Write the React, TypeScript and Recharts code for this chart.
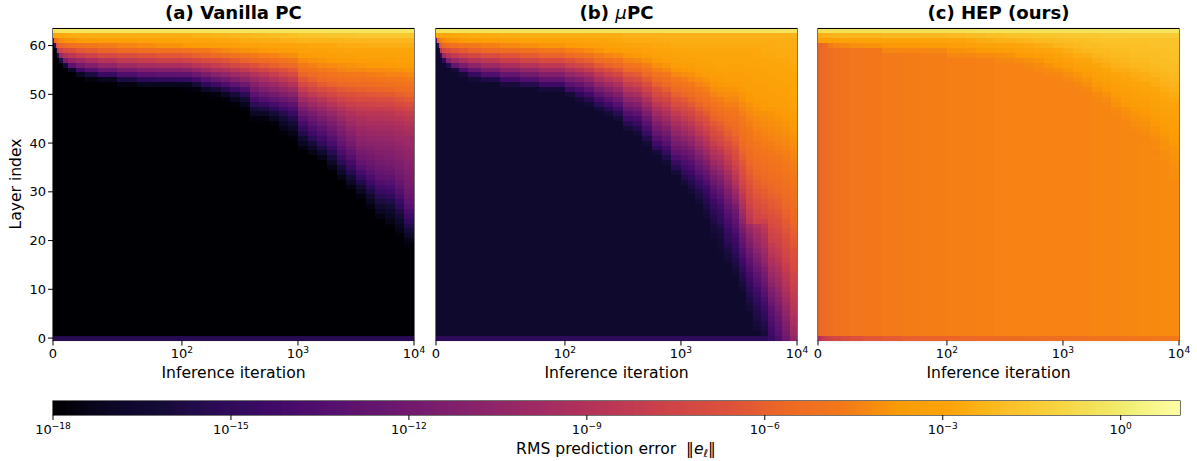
import React from "react";
import { BarChart, Bar, XAxis, YAxis } from "recharts";

// colour table of the colour bar (stops of the map, evenly spaced from low to high)
const colourStops = ["#000004","#0b0724","#160b39","#2d0b59","#420a68","#57106e","#6a176e","#7f1e6c","#932667","#a82e5f","#bc3754","#cf4446","#dd513a","#ed6925","#f37819","#fb9b06","#fca50a","#fac228","#f6d746","#f1ed6f","#fcffa4"];
const colourLow = -18;
const colourHigh = 1;
const colourbarTicks = [-18, -15, -12, -9, -6, -3, 0];
const layerTicks = [0, 10, 20, 30, 40, 50, 60];
const iterationTicks = [0, 100, 1000, 10000];
const layerCount = 64;

// iteration edges of the heat map columns
const edgesVanilla = [0,1,2,3,5,8,12,18,25,35,50,65,80,100,121,147,178,215,261,316,383,464,562,681,825,1000,1212,1468,1778,2154,2610,3162,3831,4642,5623,6813,8254,10000];
const edgesMu = [0,1,2,3,5,8,12,18,25,35,50,65,80,100,121,147,178,215,261,316,383,464,562,681,825,1000,1155,1334,1540,1778,2054,2371,2738,3162,3652,4217,4870,5623,6494,7499,8660,10000];
const edgesHep = edgesVanilla;

// log10 error per column, read from layer 63 downwards; below a list the panel's floor applies
const vanillaFloor = -18;
const vanillaLayerZero = -15.4;
const vanillaColumns = [
[-.3,-3,-14],
[-.3,-2.9,-5.2,-15],
[-.3,-2.9,-5,-7,-16],
[-.3,-2.8,-4.6,-6.2,-8.5,-15],
[-.3,-2.7,-4.2,-5.8,-7.5,-10,-15.5],
[-.3,-2.7,-4,-5.5,-7,-9,-11.5,-16],
[-.3,-2.6,-3.9,-5.2,-6.7,-8.5,-10.5,-13,-16.8],
[-.3,-2.6,-3.7,-5,-6.3,-8,-10,-11.8,-14.3,-17],
[-.3,-2.5,-3.6,-4.8,-6.1,-7.6,-9.4,-11.2,-13.2,-15.8,-17.6],
[-.3,-2.5,-3.5,-4.6,-5.8,-7.2,-8.8,-10.5,-12.4,-14.6,-17.2],
[-.3,-2.5,-3.3,-4.4,-5.5,-6.9,-8.3,-9.9,-11.7,-13.6,-15.8,-17.6],
[-.3,-2.5,-3.2,-4.2,-5.3,-6.6,-8,-9.6,-11.3,-13.1,-15.1,-17.2],
[-.3,-2.5,-3,-4,-5.1,-6.4,-7.8,-9.4,-11.1,-12.9,-14.9,-17.2],
[-.3,-2.5,-2.9,-3.8,-5,-6.2,-7.6,-9.2,-11,-12.8,-14.8,-17.2,-17.8],
[-.3,-2.4,-2.9,-3.7,-4.8,-6,-7.3,-8.8,-10.5,-12.2,-14.1,-16.2,-17.7],
[-.3,-2.4,-2.8,-3.6,-4.7,-5.8,-7,-8.4,-9.9,-11.5,-13.2,-15.1,-16.9,-17.8],
[-.3,-2.3,-2.8,-3.5,-4.5,-5.6,-6.8,-8.1,-9.5,-11,-12.6,-14.4,-16.3,-17.7],
[-.3,-2.3,-2.7,-3.4,-4.3,-5.3,-6.5,-7.7,-9.1,-10.5,-12,-13.7,-15.5,-17,-17.8],
[-.3,-2.2,-2.7,-3.3,-4.1,-5.1,-6.2,-7.3,-8.7,-10,-11.3,-12.9,-14.5,-16,-17.2,-17.8],
[-.3,-2.2,-2.6,-3.2,-4,-4.8,-5.9,-7,-8.3,-9.6,-10.8,-12.2,-13.7,-15.2,-16.4,-17.3,-17.8],
[-.3,-2.1,-2.6,-3.1,-3.9,-4.7,-5.6,-6.6,-7.8,-9,-10.1,-11.1,-12,-13,-14.1,-15.2,-16.2,-17,-17.7],
[-.3,-2.1,-2.5,-3,-3.8,-4.5,-5.4,-6.3,-7.4,-8.5,-9.6,-10.5,-11.4,-12.4,-13.4,-14.6,-15.8,-16.9,-17.7],
[-.3,-2,-2.5,-3,-3.7,-4.4,-5.2,-6,-7,-8,-9,-10,-10.9,-11.9,-12.9,-14,-15.1,-16.2,-17.1,-17.8],
[-.3,-2,-2.4,-2.9,-3.6,-4.2,-5,-5.7,-6.6,-7.5,-8.4,-9.4,-10.4,-11.4,-12.4,-13.4,-14.4,-15.4,-16.2,-16.9,-17.4,-17.8],
[-.3,-1.9,-2.4,-2.9,-3.5,-4.1,-4.8,-5.5,-6.3,-7.1,-8,-8.9,-9.9,-10.9,-11.9,-12.9,-13.8,-14.7,-15.5,-16.2,-16.9,-17.4,-17.8],
[-.3,-1.8,-2.3,-2.8,-3.2,-3.7,-4.2,-4.7,-5.2,-5.8,-6.4,-7.2,-8.1,-9,-9.9,-10.8,-11.6,-12.4,-13.2,-14,-14.8,-15.6,-16.4,-17.1,-17.7],
[-.3,-1.8,-2.3,-2.7,-3.1,-3.6,-4,-4.5,-5,-5.5,-6,-6.7,-7.5,-8.3,-9.2,-10,-10.8,-11.6,-12.3,-13,-13.7,-14.4,-15.2,-16,-16.8,-17.5],
[-.3,-1.8,-2.3,-2.7,-3.1,-3.5,-3.9,-4.3,-4.7,-5.2,-5.6,-6.2,-7,-7.8,-8.7,-9.5,-10.2,-10.9,-11.6,-12.3,-13,-13.6,-14.2,-14.9,-15.7,-16.6,-17.4],
[-.3,-1.7,-2.3,-2.7,-3,-3.4,-3.8,-4.2,-4.6,-5,-5.4,-5.9,-6.6,-7.3,-8.1,-8.9,-9.6,-10.3,-10.9,-11.5,-12.1,-12.7,-13.3,-13.9,-14.6,-15.3,-16,-16.8,-17.5],
[-.3,-1.7,-2.3,-2.6,-3,-3.3,-3.7,-4.1,-4.4,-4.8,-5.2,-5.7,-6.3,-6.9,-7.6,-8.3,-9,-9.6,-10.2,-10.7,-11.2,-11.7,-12.2,-12.7,-13.2,-13.8,-14.5,-15.2,-16,-16.8,-17.5],
[-.3,-1.7,-2.2,-2.6,-2.9,-3.3,-3.6,-4,-4.3,-4.7,-5.1,-5.6,-6.1,-6.7,-7.3,-7.9,-8.5,-9.1,-9.6,-10.1,-10.5,-11,-11.4,-11.8,-12.3,-12.8,-13.4,-14,-14.7,-15.4,-16.2,-16.9,-17.6],
[-.3,-1.6,-2.2,-2.6,-2.9,-3.2,-3.5,-3.9,-4.3,-4.7,-5.1,-5.5,-6,-6.5,-7.1,-7.7,-8.2,-8.7,-9.2,-9.6,-10,-10.3,-10.7,-11,-11.4,-11.8,-12.2,-12.7,-13.3,-14,-14.8,-15.6,-16.4,-17.1,-17.7],
[-.3,-1.6,-2.2,-2.5,-2.9,-3.2,-3.5,-3.8,-4.2,-4.6,-5,-5.4,-5.9,-6.4,-7,-7.6,-8.1,-8.6,-9,-9.4,-9.8,-10.2,-10.5,-10.8,-11.2,-11.5,-11.9,-12.3,-12.7,-13.2,-13.8,-14.4,-15.1,-15.8,-16.5,-17.1,-17.6],
[-.3,-1.6,-2.2,-2.5,-2.9,-3.2,-3.4,-3.8,-4.2,-4.5,-4.9,-5.3,-5.8,-6.3,-6.9,-7.5,-8.1,-8.6,-9,-9.4,-9.7,-10.1,-10.4,-10.7,-10.9,-11.2,-11.5,-11.9,-12.2,-12.6,-13,-13.5,-14,-14.6,-15.3,-15.9,-16.5,-17.1,-17.6],
[-.3,-1.6,-2.2,-2.5,-2.8,-3.1,-3.4,-3.7,-4.1,-4.4,-4.8,-5.2,-5.7,-6.2,-6.8,-7.4,-8,-8.5,-8.9,-9.3,-9.7,-10,-10.3,-10.6,-10.9,-11.1,-11.4,-11.7,-12,-12.4,-12.8,-13.3,-13.8,-14.4,-15,-15.6,-16.2,-16.7,-17.1,-17.5,-17.8],
[-.3,-1.6,-2.2,-2.5,-2.8,-3,-3.3,-3.6,-4,-4.4,-4.7,-5.1,-5.5,-6,-6.5,-7.1,-7.7,-8.2,-8.7,-9.1,-9.5,-9.8,-10.1,-10.3,-10.6,-10.8,-11,-11.3,-11.5,-11.8,-12.1,-12.5,-12.9,-13.4,-13.9,-14.5,-15.1,-15.7,-16.3,-16.8,-17.2,-17.5,-17.8],
[-.3,-1.6,-2.2,-2.5,-2.8,-3,-3.3,-3.6,-3.9,-4.3,-4.6,-5,-5.4,-5.8,-6.3,-6.9,-7.5,-8,-8.4,-8.8,-9.2,-9.6,-9.9,-10.1,-10.3,-10.5,-10.7,-10.9,-11.1,-11.3,-11.5,-11.7,-11.9,-12.2,-12.5,-12.9,-13.3,-13.9,-14.4,-15,-15.6,-16.2,-16.8,-17.4,-17.8],
];

const muFloor = -16.6;
const muLayerZero = -15.2;
const muColumns = [
[-.4,-3.1,-14],
[-.4,-3,-5.3,-15],
[-.4,-2.9,-5,-7.2,-15.5],
[-.4,-2.9,-4.6,-6.2,-8.6,-15],
[-.4,-2.8,-4.2,-5.7,-7.4,-9.8,-15],
[-.4,-2.8,-4,-5.4,-6.9,-8.8,-11.2,-15.5],
[-.4,-2.7,-3.9,-5.1,-6.5,-8.2,-10.2,-12.6,-16],
[-.4,-2.7,-3.7,-4.9,-6.2,-7.7,-9.5,-11.5,-13.8,-16],
[-.4,-2.6,-3.6,-4.7,-5.9,-7.3,-8.9,-10.7,-12.6,-14.8,-16.2],
[-.4,-2.6,-3.5,-4.5,-5.6,-6.9,-8.4,-10,-11.7,-13.5,-15.6],
[-.4,-2.5,-3.3,-4.3,-5.3,-6.5,-7.9,-9.4,-11,-12.6,-14.3,-16],
[-.4,-2.5,-3.2,-4.1,-5.1,-6.2,-7.5,-8.9,-10.4,-11.9,-13.5,-15.4],
[-.4,-2.5,-3.1,-3.9,-4.8,-5.9,-7.1,-8.4,-9.8,-11.2,-12.7,-14.4,-16],
[-.4,-2.5,-3,-3.7,-4.5,-5.5,-6.6,-7.8,-9.1,-10.4,-11.7,-13.1,-14.5,-16.1],
[-.4,-2.5,-3,-3.6,-4.4,-5.3,-6.3,-7.5,-8.7,-10,-11.3,-12.6,-13.9,-15.1,-16.1],
[-.4,-2.5,-2.9,-3.5,-4.2,-5,-6,-7,-8.2,-9.4,-10.6,-11.8,-13,-14.3,-15.5,-16.2],
[-.4,-2.5,-2.8,-3.3,-3.9,-4.6,-5.4,-6.3,-7.3,-8.4,-9.5,-10.6,-11.7,-12.8,-14,-15.2,-16.1],
[-.4,-2.5,-2.8,-3.2,-3.7,-4.4,-5.1,-5.9,-6.8,-7.8,-8.8,-9.9,-11,-12,-13.1,-14.2,-15.3,-16.1],
[-.4,-2.5,-2.7,-3.1,-3.6,-4.2,-4.9,-5.6,-6.4,-7.3,-8.3,-9.3,-10.3,-11.3,-12.3,-13.3,-14.3,-15.3,-16.1],
[-.4,-2.4,-2.6,-3,-3.4,-3.9,-4.4,-5,-5.7,-6.4,-7.2,-8,-8.9,-9.8,-10.7,-11.6,-12.5,-13.4,-14.3,-15.3,-16.1],
[-.4,-2.4,-2.6,-2.9,-3.3,-3.8,-4.3,-4.9,-5.5,-6.2,-6.9,-7.7,-8.5,-9.4,-10.3,-11.2,-12.1,-13,-13.9,-14.7,-15.5,-16.2],
[-.4,-2.4,-2.6,-2.8,-3.2,-3.6,-4,-4.5,-5,-5.6,-6.2,-6.9,-7.6,-8.3,-9.1,-9.9,-10.7,-11.5,-12.3,-13.1,-13.9,-14.7,-15.5,-16.2],
[-.4,-2.4,-2.6,-2.7,-3,-3.3,-3.7,-4.1,-4.5,-5,-5.5,-6,-6.6,-7.2,-7.8,-8.5,-9.2,-9.9,-10.6,-11.3,-12,-12.7,-13.4,-14.2,-15.1,-16],
[-.4,-2.4,-2.5,-2.7,-2.9,-3.2,-3.5,-3.9,-4.3,-4.7,-5.1,-5.6,-6.1,-6.7,-7.3,-7.9,-8.5,-9.1,-9.8,-10.5,-11.2,-11.9,-12.6,-13.3,-14,-14.8,-15.6,-16.2],
[-.4,-2.4,-2.5,-2.6,-2.8,-3,-3.3,-3.6,-3.9,-4.3,-4.7,-5.1,-5.5,-6,-6.5,-7,-7.6,-8.2,-8.8,-9.4,-10,-10.6,-11.2,-11.8,-12.4,-13,-13.7,-14.5,-15.3,-16.1],
[-.4,-2.4,-2.5,-2.6,-2.8,-3,-3.2,-3.5,-3.8,-4.1,-4.5,-4.9,-5.3,-5.7,-6.2,-6.7,-7.2,-7.7,-8.3,-8.9,-9.5,-10.1,-10.7,-11.3,-11.9,-12.5,-13.1,-13.7,-14.3,-14.9,-15.5,-16.1],
[-.4,-2.4,-2.5,-2.6,-2.7,-2.9,-3.1,-3.4,-3.7,-4,-4.3,-4.7,-5,-5.4,-5.8,-6.3,-6.8,-7.3,-7.8,-8.4,-9,-9.6,-10.2,-10.8,-11.4,-12,-12.6,-13.2,-13.8,-14.4,-15,-15.5,-15.9,-16.2],
[-.4,-2.4,-2.5,-2.6,-2.7,-2.8,-3,-3.2,-3.5,-3.8,-4.1,-4.4,-4.7,-5,-5.4,-5.8,-6.2,-6.6,-7.1,-7.6,-8.1,-8.6,-9.2,-9.7,-10.3,-10.9,-11.5,-12.1,-12.7,-13.3,-13.9,-14.5,-15,-15.5,-15.9,-16.2],
[-.4,-2.4,-2.5,-2.6,-2.7,-2.8,-3,-3.2,-3.4,-3.6,-3.9,-4.2,-4.5,-4.8,-5.1,-5.4,-5.8,-6.2,-6.6,-7,-7.5,-8,-8.5,-9,-9.5,-10.1,-10.7,-11.3,-11.9,-12.5,-13,-13.6,-14.2,-14.7,-15.1,-15.5,-15.8,-16.1,-16.3],
[-.4,-2.4,-2.5,-2.6,-2.7,-2.8,-2.9,-3.1,-3.3,-3.5,-3.7,-3.9,-4.1,-4.4,-4.7,-5,-5.3,-5.6,-5.9,-6.3,-6.7,-7.1,-7.5,-8,-8.5,-9,-9.5,-10,-10.6,-11.2,-11.7,-12.3,-12.9,-13.4,-13.9,-14.4,-14.8,-15.2,-15.5,-15.8,-16,-16.2,-16.3],
[-.4,-2.4,-2.5,-2.6,-2.7,-2.8,-2.9,-3,-3.2,-3.4,-3.6,-3.8,-4,-4.2,-4.5,-4.7,-5,-5.3,-5.6,-6,-6.3,-6.7,-7.1,-7.5,-8,-8.5,-9,-9.5,-10.1,-10.6,-11.1,-11.6,-12.1,-12.6,-13.1,-13.6,-14.1,-14.5,-14.9,-15.2,-15.5,-15.8,-16,-16.2,-16.3,-16.4],
[-.4,-2.4,-2.5,-2.6,-2.7,-2.8,-2.9,-3,-3.2,-3.3,-3.5,-3.7,-3.9,-4.1,-4.3,-4.5,-4.7,-5,-5.2,-5.5,-5.8,-6.1,-6.4,-6.8,-7.2,-7.6,-8,-8.4,-8.9,-9.4,-9.9,-10.4,-10.8,-11.3,-11.7,-12.2,-12.7,-13.1,-13.5,-13.9,-14.3,-14.6,-14.9,-15.2,-15.5,-15.8,-16.1,-16.3],
[-.4,-2.4,-2.5,-2.6,-2.7,-2.8,-2.9,-3.1,-3.2,-3.4,-3.5,-3.7,-3.9,-4.1,-4.3,-4.5,-4.7,-4.9,-5.1,-5.3,-5.5,-5.7,-6,-6.2,-6.5,-6.8,-7.1,-7.4,-7.8,-8.2,-8.6,-9,-9.5,-10,-10.5,-11,-11.6,-12.2,-12.5,-12.9,-13.2,-13.6,-14,-14.4,-14.7,-15,-15.3,-15.6,-15.9,-16.2,-16.4],
[-.4,-2.4,-2.5,-2.6,-2.7,-2.8,-2.9,-3,-3.2,-3.3,-3.4,-3.6,-3.7,-3.9,-4,-4.2,-4.4,-4.5,-4.7,-4.8,-5,-5.2,-5.3,-5.5,-5.7,-5.9,-6.1,-6.4,-6.6,-6.9,-7.2,-7.5,-7.8,-8.1,-8.5,-8.9,-9.3,-9.7,-10.2,-10.7,-11.2,-11.7,-12.2,-12.6,-13,-13.4,-13.8,-14.2,-14.6,-15,-15.4,-15.7,-16,-16.3],
[-.4,-2.4,-2.5,-2.6,-2.7,-2.8,-2.9,-3,-3.1,-3.2,-3.3,-3.4,-3.5,-3.7,-3.8,-4,-4.1,-4.3,-4.4,-4.5,-4.7,-4.8,-4.9,-5.1,-5.2,-5.4,-5.5,-5.7,-5.9,-6.1,-6.3,-6.5,-6.7,-6.9,-7.2,-7.4,-7.7,-8,-8.3,-8.6,-9.8,-10.3,-10.7,-11.1,-11.5,-12,-12.4,-12.8,-13.2,-13.6,-14,-14.4,-14.8,-15.2,-15.5,-15.8,-16,-16.2],
[-.4,-2.4,-2.5,-2.6,-2.7,-2.7,-2.8,-2.9,-3,-3.1,-3.2,-3.3,-3.4,-3.5,-3.6,-3.8,-3.9,-4,-4.2,-4.3,-4.4,-4.5,-4.6,-4.8,-4.9,-5,-5.2,-5.3,-5.5,-5.6,-5.8,-6,-6.1,-6.3,-6.5,-6.7,-6.9,-7.2,-7.4,-7.7,-9,-9.4,-9.7,-10.1,-10.4,-10.8,-11.2,-11.6,-12,-12.4,-12.8,-13.2,-13.6,-14.1,-14.5,-14.8,-15.1,-15.4,-15.6,-15.8,-16,-16.2],
[-.4,-2.4,-2.5,-2.6,-2.6,-2.7,-2.8,-2.9,-3,-3.1,-3.2,-3.3,-3.4,-3.5,-3.6,-3.7,-3.8,-4,-4.1,-4.2,-4.3,-4.4,-4.5,-4.6,-4.7,-4.9,-5,-5.1,-5.3,-5.4,-5.6,-5.7,-5.9,-6.1,-6.2,-6.4,-6.6,-6.8,-7.2,-7.8,-8.4,-8.7,-9,-9.3,-9.6,-9.9,-10.2,-10.5,-10.9,-11.3,-11.7,-12.1,-12.5,-12.9,-13.3,-13.7,-14.1,-14.5,-14.9,-15.2,-15.5,-15.7,-16],
[-.4,-2.4,-2.5,-2.6,-2.6,-2.7,-2.7,-2.8,-2.9,-3,-3.1,-3.2,-3.3,-3.4,-3.5,-3.6,-3.8,-3.9,-4,-4.1,-4.2,-4.3,-4.4,-4.5,-4.6,-4.7,-4.9,-5,-5.1,-5.2,-5.4,-5.5,-5.7,-5.8,-6,-6.2,-6.3,-6.5,-6.7,-6.9,-7.1,-7.4,-7.6,-7.8,-8.2,-8.5,-8.8,-9.1,-9.4,-9.7,-10,-10.4,-10.8,-11.2,-11.6,-12,-12.4,-12.8,-13.1,-13.4,-13.7,-14,-14.3,-14.6],
[-.4,-2.4,-2.5,-2.5,-2.6,-2.6,-2.7,-2.8,-2.8,-2.9,-3,-3.1,-3.2,-3.3,-3.4,-3.5,-3.7,-3.8,-3.9,-4,-4.1,-4.2,-4.3,-4.4,-4.5,-4.6,-4.8,-4.9,-5,-5.1,-5.3,-5.4,-5.5,-5.6,-5.8,-6,-6.1,-6.3,-6.5,-6.7,-6.9,-7.1,-7.3,-7.6,-7.8,-8.1,-8.3,-8.6,-8.9,-9.2,-9.5,-9.8,-10.1,-10.4,-10.7,-11.1,-11.4,-11.7,-12.1,-12.4,-12.7,-13,-13.3,-13.6],
[-.4,-2.4,-2.5,-2.5,-2.6,-2.6,-2.7,-2.7,-2.8,-2.8,-2.9,-3,-3.1,-3.2,-3.3,-3.4,-3.5,-3.7,-3.8,-3.9,-4,-4.1,-4.2,-4.3,-4.4,-4.5,-4.6,-4.7,-4.8,-4.9,-5,-5.1,-5.2,-5.3,-5.5,-5.6,-5.7,-5.9,-6,-6.2,-6.3,-6.5,-6.7,-6.9,-7.1,-7.3,-7.5,-7.7,-7.9,-8.1,-8.4,-8.6,-8.9,-9.1,-9.4,-9.7,-10,-10.3,-10.6,-10.9,-11.2,-11.5,-11.8,-12.2],
[-.4,-2.4,-2.5,-2.5,-2.6,-2.6,-2.6,-2.7,-2.7,-2.8,-2.8,-2.9,-2.9,-3,-3.1,-3.2,-3.3,-3.5,-3.6,-3.7,-3.8,-3.9,-4,-4.1,-4.2,-4.3,-4.4,-4.5,-4.6,-4.7,-4.8,-4.9,-5,-5.1,-5.2,-5.3,-5.4,-5.5,-5.6,-5.7,-5.9,-6,-6.1,-6.3,-6.4,-6.6,-6.7,-6.9,-7,-7.2,-7.4,-7.6,-7.8,-8,-8.2,-8.4,-8.6,-8.8,-9,-9.3,-9.5,-9.8,-10.1,-10.4],
];

const hepFloors = [-5.9,-5.8,-5.7,-5.6,-5.5,-5.3,-5.1,-5,-4.85,-4.75,-4.65,-4.6,-4.55,-4.5,-4.5,-4.5,-4.45,-4.45,-4.4,-4.4,-4.4,-4.4,-4.4,-4.4,-4.4,-4.4,-4.4,-4.4,-4.35,-4.35,-4.35,-4.3,-4.3,-4.25,-4.25,-4.2,-4.2];
const hepLayerZero = [-9.2,-8.8,-8.5,-8.2,-7.9,-7.6,-7.3,-7,-6.7,-6.4,-6.2,-6,-5.9,-5.8,-5.75,-5.7,-5.65,-5.6,-5.55,-5.5,-5.45,-5.4,-5.4,-5.35,-5.3,-5.3,-5.25,-5.2,-5.15,-5.1,-5.05,-5,-4.95,-4.9,-4.85,-4.8,-4.7];
const hepColumns = [
[-.5,-2.6,-3.6],
[-.5,-2.5,-3.5],
[-.5,-2.5,-3.5],
[-.5,-2.4,-3.4],
[-.5,-2.4,-3.4],
[-.5,-2.4,-3.3,-4.6],
[-.5,-2.3,-3.2,-4.4],
[-.5,-2.3,-3.2,-4.3],
[-.5,-2.3,-3.1,-4.1],
[-.5,-2.3,-3.1,-4],
[-.5,-2.2,-3,-3.8,-4.3],
[-.5,-2.2,-3,-3.8,-4.3],
[-.5,-2.2,-2.9,-3.7,-4.3],
[-.5,-2.1,-2.8,-3.5,-4,-4.3],
[-.5,-2.1,-2.8,-3.4,-4,-4.3],
[-.5,-2,-2.7,-3.3,-3.9,-4.3],
[-.4,-2,-2.6,-3.2,-3.8,-4.2],
[-.4,-1.9,-2.5,-3.1,-3.7,-4.2],
[-.4,-1.9,-2.4,-3,-3.6,-4.1,-4.3],
[-.4,-1.8,-2.4,-2.9,-3.5,-4,-4.3],
[-.4,-1.8,-2.3,-2.8,-3.3,-3.8,-4.2],
[-.4,-1.8,-2.2,-2.7,-3.2,-3.7,-4.1,-4.3],
[-.4,-1.7,-2.1,-2.6,-3,-3.5,-3.9,-4.2,-4.3],
[-.4,-1.7,-2.1,-2.5,-2.9,-3.3,-3.7,-4,-4.2,-4.3],
[-.4,-1.7,-2,-2.3,-2.7,-3.1,-3.5,-3.8,-4.1,-4.3],
[-.4,-1.6,-2,-2.2,-2.5,-2.9,-3.2,-3.6,-3.9,-4.1,-4.3],
[-.4,-1.6,-1.9,-2.1,-2.3,-2.6,-2.9,-3.3,-3.6,-3.9,-4.1,-4.3],
[-.4,-1.6,-1.9,-2,-2.2,-2.5,-2.8,-3.1,-3.4,-3.7,-3.9,-4.1,-4.3],
[-.4,-1.6,-1.8,-2,-2.1,-2.3,-2.5,-2.8,-3.1,-3.3,-3.6,-3.8,-4,-4.2,-4.3],
[-.4,-1.5,-1.8,-1.9,-2.1,-2.2,-2.4,-2.6,-2.9,-3.1,-3.4,-3.6,-3.8,-4,-4.2,-4.3],
[-.4,-1.5,-1.8,-1.9,-2,-2.1,-2.3,-2.4,-2.6,-2.8,-3.1,-3.3,-3.5,-3.7,-3.9,-4,-4.2,-4.3],
[-.3,-1.5,-1.8,-1.9,-2,-2.1,-2.2,-2.3,-2.5,-2.7,-2.9,-3.1,-3.3,-3.5,-3.7,-3.8,-4,-4.1,-4.2,-4.3],
[-.3,-1.5,-1.8,-1.9,-1.9,-2,-2.1,-2.2,-2.4,-2.5,-2.7,-2.9,-3.1,-3.3,-3.5,-3.6,-3.8,-3.9,-4,-4.1,-4.2,-4.3],
[-.3,-1.5,-1.8,-1.9,-1.9,-2,-2.1,-2.2,-2.3,-2.5,-2.6,-2.8,-3,-3.2,-3.4,-3.5,-3.7,-3.8,-3.9,-4,-4.1,-4.2,-4.3],
[-.3,-1.5,-1.8,-1.8,-1.9,-2,-2,-2.1,-2.2,-2.3,-2.5,-2.6,-2.8,-3,-3.1,-3.3,-3.4,-3.6,-3.7,-3.8,-3.9,-4,-4.1,-4.2,-4.2,-4.3],
[-.3,-1.5,-1.8,-1.8,-1.9,-1.9,-2,-2,-2.1,-2.2,-2.3,-2.4,-2.6,-2.7,-2.9,-3,-3.2,-3.3,-3.5,-3.6,-3.7,-3.8,-3.9,-4,-4,-4.1,-4.1,-4.2,-4.2],
[-.3,-1.5,-1.8,-1.8,-1.8,-1.9,-1.9,-2,-2,-2.1,-2.2,-2.3,-2.4,-2.5,-2.7,-2.8,-3,-3.1,-3.3,-3.4,-3.5,-3.6,-3.7,-3.8,-3.9,-3.9,-4,-4,-4.1,-4.1,-4.1,-4.2],
];

const FONT = "'DejaVu Sans', sans-serif";
const linearSpan = 1 / (1 - 1 / 10);
const axisMax = linearSpan + 2;
const toAxis = (it: number) => (it <= 100 ? (it / 100) * linearSpan : linearSpan + Math.log10(it / 100));

const hexRgb = (h: string) => [1, 3, 5].map((i) => parseInt(h.slice(i, i + 2), 16));
const colourOf = (v: number) => {
  const t = Math.max(0, Math.min(1, (v - colourLow) / (colourHigh - colourLow))) * (colourStops.length - 1);
  const i = Math.min(Math.floor(t), colourStops.length - 2);
  const a = hexRgb(colourStops[i]);
  const b = hexRgb(colourStops[i + 1]);
  const f = t - i;
  return `rgb(${a.map((x, k) => Math.round(x + (b[k] - x) * f)).join(",")})`;
};

const PowerText = ({ x, y, base, exp }: any) => (
  <text x={x} y={y} textAnchor="middle" fontFamily={FONT} fontSize={13} fill="#000">
    {base}
    <tspan fontSize={9.1} dy={-5.5}>{exp}</tspan>
  </text>
);

const iterationTick = (xTo: number[]) => (p: any) => {
  const it = iterationTicks[xTo.indexOf(p.payload.value)];
  if (it === 0) {
    return <text x={p.x} y={358} textAnchor="middle" fontFamily={FONT} fontSize={13} fill="#000">0</text>;
  }
  return <PowerText x={p.x} y={358} base="10" exp={String(Math.round(Math.log10(it)))} />;
};

type PanelProps = {
  left: number;
  title: React.ReactNode;
  edges: number[];
  columns: number[][];
  floors: (k: number) => number;
  zero: (k: number) => number;
  showLayers: boolean;
};

const Panel = ({ left, title, edges, columns, floors, zero, showLayers }: PanelProps) => {
  const fills = columns.map((col, k) => {
    const out: string[] = [];
    for (let layer = layerCount - 1; layer >= 0; layer--) {
      const i = layerCount - 1 - layer;
      const v = i < col.length ? col[i] : layer === 0 ? zero(k) : floors(k);
      out.push(colourOf(v));
    }
    return out;
  });
  const rows: any[] = [];
  for (let layer = layerCount - 1; layer >= 0; layer--) {
    const row: any = { layer };
    columns.forEach((_, k) => {
      row[`c${k}`] = toAxis(edges[k + 1]) - toAxis(edges[k]);
    });
    rows.push(row);
  }
  const xTicks = iterationTicks.map(toAxis);
  const cx = 53 + 180.5;
  return (
    <div style={{ position: "absolute", left, top: 0 }}>
      <BarChart
        width={440}
        height={400}
        data={rows}
        layout="vertical"
        barCategoryGap={0}
        barGap={0}
        margin={{ top: 28.5, right: 26, bottom: 19.5, left: 23 }}
      >
        {columns.map((_, k) => (
          <Bar
            key={k}
            dataKey={`c${k}`}
            stackId="s"
            isAnimationActive={false}
            shape={(p: any) => (
              <rect x={p.x} y={p.y} width={p.width} height={p.height} fill={fills[k][p.index]} shapeRendering="crispEdges" />
            )}
          />
        ))}
        <XAxis
          type="number"
          domain={[0, axisMax]}
          ticks={xTicks}
          height={40}
          interval={0}
          tickSize={5}
          tickLine={{ stroke: "#000", strokeWidth: 1 }}
          axisLine={false}
          tick={iterationTick(xTicks)}
        />
        <YAxis
          type="category"
          dataKey="layer"
          ticks={layerTicks}
          interval={0}
          width={30}
          tickSize={5}
          tickLine={{ stroke: "#000", strokeWidth: 1 }}
          axisLine={false}
          tick={showLayers ? { fontFamily: FONT, fontSize: 13, fill: "#000" } : false}
        />
        <rect x={53} y={28.5} width={361} height={312} fill="none" stroke="#000" strokeWidth={1.1} />
        <text x={cx} y={19} textAnchor="middle" fontFamily={FONT} fontSize={18.1} fontWeight="bold" fill="#000">{title}</text>
        <text x={cx} y={378} textAnchor="middle" fontFamily={FONT} fontSize={15.6} fill="#000">Inference iteration</text>
        {showLayers && (
          <text x={16} y={184} textAnchor="middle" fontFamily={FONT} fontSize={15.6} fill="#000" dominantBaseline="middle" transform="rotate(-90 16 184)">Layer index</text>
        )}
      </BarChart>
    </div>
  );
};

const colourbarSteps = 256;
const colourbarKeys = Array.from({ length: colourbarSteps }, (_, i) => `s${i}`);
const colourbarRow: any = {};
colourbarKeys.forEach((k) => { colourbarRow[k] = (colourHigh - colourLow) / colourbarSteps; });
const colourbarTickPos = colourbarTicks.map((v) => v - colourLow);

const Colourbar = () => (
  <div style={{ position: "absolute", left: 0, top: 390 }}>
    <BarChart
      width={1197}
      height={71}
      data={[colourbarRow]}
      layout="vertical"
      barCategoryGap={0}
      margin={{ top: 11, right: 17, bottom: 26, left: 53 }}
    >
      {colourbarKeys.map((k, i) => (
        <Bar
          key={k}
          dataKey={k}
          stackId="s"
          isAnimationActive={false}
          shape={(p: any) => (
            <rect x={p.x} y={p.y} width={p.width} height={p.height} fill={colourOf(colourLow + ((i + 0.5) * (colourHigh - colourLow)) / colourbarSteps)} shapeRendering="crispEdges" />
          )}
        />
      ))}
      <XAxis
        type="number"
        domain={[0, colourHigh - colourLow]}
        ticks={colourbarTickPos}
        interval={0}
        height={20}
        tickSize={5}
        tickLine={{ stroke: "#000", strokeWidth: 1 }}
        axisLine={false}
        tick={(p: any) => {
          const v = p.payload.value + colourLow;
          const exp = (v < 0 ? "\u2212" : "") + Math.abs(v);
          return <PowerText x={p.x} y={44} base="10" exp={exp} />;
        }}
      />
      <YAxis type="category" hide width={0} />
      <rect x={53} y={11} width={1127} height={14} fill="none" stroke="#000" strokeWidth={1.1} />
      <text x={616} y={64} textAnchor="middle" fontFamily={FONT} fontSize={15.6} fill="#000" xmlSpace="preserve">
        {"RMS prediction error  \u2016"}
        <tspan fontStyle="italic">e</tspan>
        <tspan fontStyle="italic" fontSize={11} dy={3}>{"\u2113"}</tspan>
        <tspan dy={-3}>{"\u2016"}</tspan>
      </text>
    </BarChart>
  </div>
);

export default function App() {
  return (
    <div style={{ position: "absolute", left: 0, top: 0, width: 1197, height: 461, background: "#fff", overflow: "hidden" }}>
      <Panel left={0} title="(a) Vanilla PC" edges={edgesVanilla} columns={vanillaColumns} floors={() => vanillaFloor} zero={() => vanillaLayerZero} showLayers />
      <Panel
        left={383}
        title={<>(b) <tspan fontStyle="italic" fontWeight="normal">{"\u03bc"}</tspan>PC</>}
        edges={edgesMu}
        columns={muColumns}
        floors={() => muFloor}
        zero={() => muLayerZero}
        showLayers={false}
      />
      <Panel left={765} title="(c) HEP (ours)" edges={edgesHep} columns={hepColumns} floors={(k) => hepFloors[k]} zero={(k) => hepLayerZero[k]} showLayers={false} />
      <Colourbar />
    </div>
  );
}
